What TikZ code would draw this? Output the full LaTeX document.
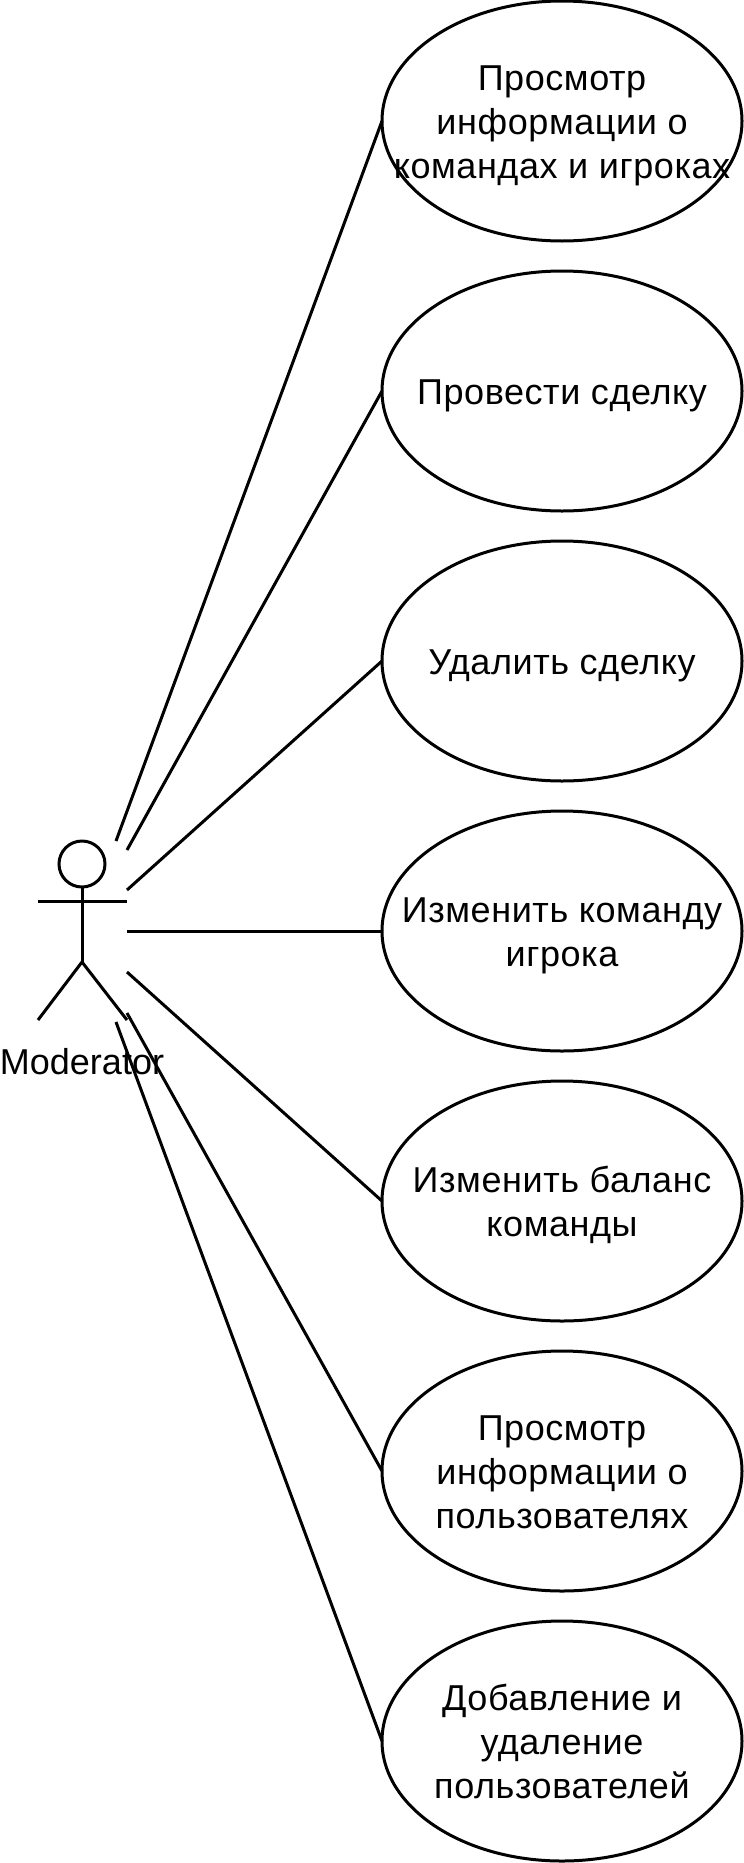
\documentclass[tikz,border=0pt]{standalone}
\usepackage{fontspec}
\setmainfont{Liberation Sans}
\newfontfamily\casefont[LetterSpace=1.6]{Liberation Sans}
\usetikzlibrary{shapes.geometric}
\newcommand{\usetxt}[1]{\makebox[0pt]{\raisebox{0pt}[\dimexpr\height+10pt\relax][\depth]{\casefont\fontsize{36}{44}\selectfont\begin{tabular}{@{}c@{}}#1\end{tabular}}}}
\tikzset{
  usecase/.style={ellipse,draw=black,line width=3pt,minimum width=360pt,minimum height=240pt,inner sep=0pt,outer sep=0pt},
  assoc/.style={draw=black,line width=3pt},
  actorline/.style={draw=black,line width=3pt},
  actorhead/.style={circle,draw=black,line width=3pt,minimum size=46pt,inner sep=0pt,outer sep=0pt},
  actorlabel/.style={anchor=base,inner sep=0pt,font=\fontsize{36}{44}\selectfont}
}
\begin{document}
\begin{tikzpicture}[x=1pt,y=-1pt]
\useasboundingbox (0,0) rectangle (744,1863);
\node[usecase] (u1) at (562,121) {\usetxt{Просмотр\\информации о\\командах и игроках}};
\node[usecase] (u2) at (562,391) {\usetxt{Провести сделку}};
\node[usecase] (u3) at (562,661) {\usetxt{Удалить сделку}};
\node[usecase] (u4) at (562,931) {\usetxt{Изменить команду\\игрока}};
\node[usecase] (u5) at (562,1201) {\usetxt{Изменить баланс\\команды}};
\node[usecase] (u6) at (562,1471) {\usetxt{Просмотр\\информации о\\пользователях}};
\node[usecase] (u7) at (562,1741) {\usetxt{Добавление и\\удаление\\пользователей}};
\node[actorhead] (head) at (82,864) {};
\coordinate (armL) at (38,901);
\coordinate (armR) at (127,901);
\coordinate (hip) at (82,962);
\coordinate (footL) at (38,1020);
\coordinate (footR) at (127,1020);
\draw[actorline] (head.south) -- (hip);
\draw[actorline] (armL) -- (armR);
\draw[actorline] (footL) -- (hip) -- (footR);
\node[actorlabel] (modlabel) at (82,1074) {Moderator};
\coordinate (s1) at (116,841);
\coordinate (s2) at (127,850);
\coordinate (s3) at (127,890);
\coordinate (s4) at (127,931);
\coordinate (s5) at (127,972);
\coordinate (s6) at (127,1013);
\coordinate (s7) at (116,1022);
\foreach \i in {1,...,7} {\draw[assoc] (s\i) -- (u\i.west);}
\end{tikzpicture}
\end{document}
